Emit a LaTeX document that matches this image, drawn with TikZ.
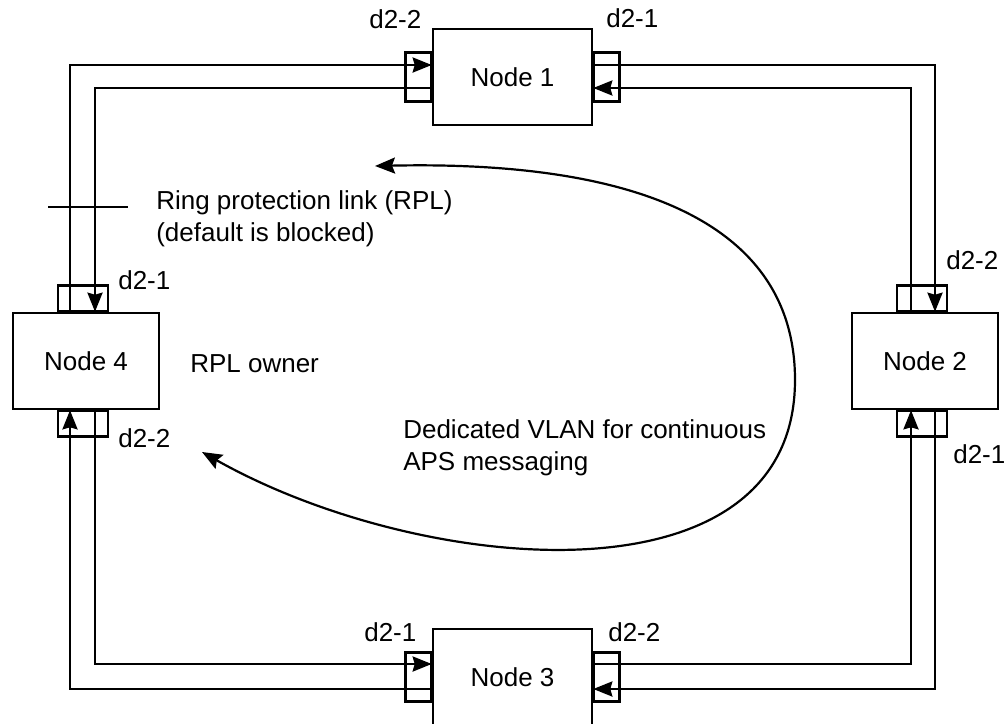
\documentclass[tikz,border=0pt]{standalone}
\usepackage{fontspec}
\setmainfont{Liberation Sans}
\usetikzlibrary{arrows.meta}

\newcommand{\unitlen}{1pt}
\newcommand{\txtsize}{\fontsize{26}{32}\selectfont}

\begin{document}
\begin{tikzpicture}[x=\unitlen, y=-\unitlen, line width=2.6pt, font=\txtsize,
    ringbox/.style={draw, fill=white, minimum width=159, minimum height=96, inner sep=0},
    sidebox/.style={ringbox, minimum width=146},
    hport/.style={draw, minimum width=26, minimum height=49, inner sep=0},
    vport/.style={draw, minimum width=50, minimum height=26, inner sep=0},
    lbl/.style={inner sep=0, anchor=base west},
    note/.style={inner sep=0, anchor=north west, align=left},
    link/.style={-{Stealth[length=19pt, width=15pt, inset=2pt]}},
    vlan/.style={line width=2.2pt, {Stealth[length=20pt, width=16pt, inset=3pt]}-{Stealth[length=20pt, width=16pt, inset=3pt]}}]
    \useasboundingbox (0,0) rectangle (1004,723);

    % Ports.
    \coordinate (c1) at (512.5,77);
    \coordinate (c2) at (925,361);
    \coordinate (c3) at (512.5,677);
    \coordinate (c4) at (86,361);
    \node[hport, anchor=east] (p1w) at ([xshift=-79.5]c1) {};
    \node[hport, anchor=west] (p1e) at ([xshift=79.5]c1) {};
    \node[vport, anchor=south] (p2n) at ([xshift=-3, yshift=48]c2) {};
    \node[vport, anchor=north] (p2s) at ([xshift=-3, yshift=-48]c2) {};
    \node[hport, anchor=east] (p3w) at ([xshift=-79.5]c3) {};
    \node[hport, anchor=west] (p3e) at ([xshift=79.5]c3) {};
    \node[vport, anchor=south] (p4n) at ([xshift=-3, yshift=48]c4) {};
    \node[vport, anchor=north] (p4s) at ([xshift=-3, yshift=-48]c4) {};

    % Nodes.
    \node[ringbox] (n1) at (c1) {Node 1};
    \node[sidebox] (n2) at (c2) {Node 2};
    \node[ringbox] (n3) at (c3) {Node 3};
    \node[sidebox] (n4) at (c4) {Node 4};

    % Port names.
    \node[lbl] (l1w) at (368,28) {d2-2};
    \node[lbl] (l1e) at (605,27) {d2-1};
    \node[lbl] (l2n) at (945,269) {d2-2};
    \node[lbl] (l2s) at (952,463) {d2-1};
    \node[lbl] (l3w) at (363,641) {d2-1};
    \node[lbl] (l3e) at (607,641) {d2-2};
    \node[lbl] (l4n) at (117,289) {d2-1};
    \node[lbl] (l4s) at (117,447) {d2-2};

    % Ring corners.
    \coordinate (tlo) at (70,65);
    \coordinate (tli) at (95,88);
    \coordinate (tro) at (935,65);
    \coordinate (tri) at (911,88);
    \coordinate (bri) at (911,664);
    \coordinate (bro) at (935,689);
    \coordinate (bli) at (95,664);
    \coordinate (blo) at (70,689);

    % Ring links.
    \draw[link] (n4.north -| tlo) -- (tlo) -- (n1.west |- tlo);
    \draw[link] (n1.west |- tli) -- (tli) -- (n4.north -| tli);
    \draw[link] (n1.east |- tro) -- (tro) -- (n2.north -| tro);
    \draw[link] (n2.north -| tri) -- (tri) -- (n1.east |- tri);
    \draw[link] (n3.east |- bri) -- (bri) -- (n2.south -| bri);
    \draw[link] (n2.south -| bro) -- (bro) -- (n3.east |- bro);
    \draw[link] (n4.south -| bli) -- (bli) -- (n3.west |- bli);
    \draw[link] (n3.west |- blo) -- (blo) -- (n4.south -| blo);

    % Blocked RPL.
    \draw (48,207) -- (128,207);
    \node[note] (rpl) at (155,189) {Ring protection link (RPL)\\(default is blocked)};
    \node[lbl] (own) at (189,372) {RPL owner};

    % APS channel.
    \coordinate (vt) at (375,166);
    \coordinate (vr) at (795,380);
    \coordinate (vb) at (202,452);
    \draw[vlan] (vt) .. controls (650,160) and (795,230) .. (vr)
        .. controls (795,610) and (420,575) .. (vb);
    \node[note] (aps) at (402,418) {Dedicated VLAN for continuous\\APS messaging};

\end{tikzpicture}
\end{document}
